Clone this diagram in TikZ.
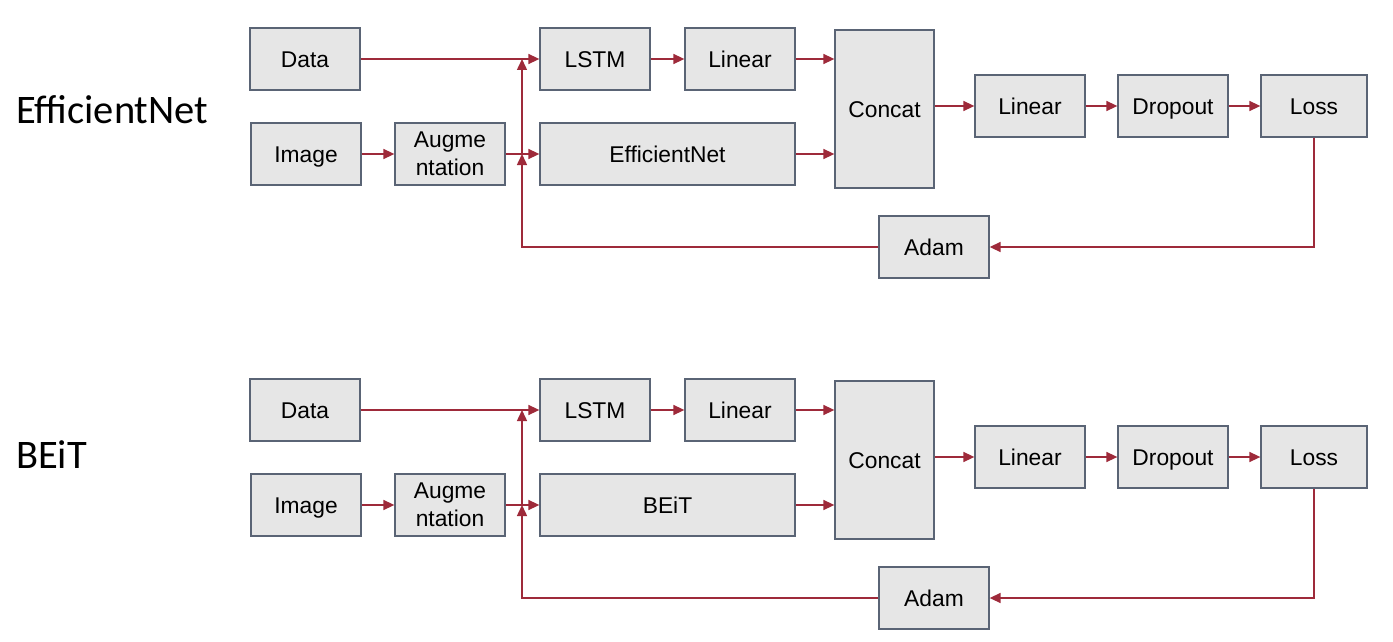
\documentclass[tikz,border=0pt]{standalone}
\usepackage{fontspec}
\setmainfont{Liberation Sans}
\newfontfamily\titlefont{Carlito}
\usetikzlibrary{arrows.meta}
\definecolor{boxfill}{HTML}{E6E6E6}
\definecolor{boxline}{HTML}{5A6475}
\definecolor{arrowred}{HTML}{9E2A3A}
\tikzset{
  blkbase/.style={draw=boxline, fill=boxfill, line width=1.3pt, minimum width=110pt,
    minimum height=62pt, inner sep=0pt, align=center,
    font=\fontsize{22.8}{28}\selectfont},
  blk/.style={blkbase, text height=16.3pt, text depth=0pt},
  flow/.style={draw=arrowred, line width=1.5pt, -{Triangle[length=11pt,width=10pt]}},
  ttl/.style={anchor=base west, inner sep=0pt, font=\titlefont\fontsize{40.5}{44}\selectfont}
}
\newcommand{\pipeline}[4]{% #1 prefix, #2 y offset, #3 title, #4 backbone
  \begin{scope}[shift={(0,#2)}]
    \node[blk] (#1data) at (305,59) {Data};
    \node[blk] (#1image) at (306,154) {Image};
    \node[blkbase] (#1aug) at (450,154) {Augme\\ntation};
    \node[blk] (#1lstm) at (595,59) {LSTM};
    \node[blk] (#1linA) at (740,59) {Linear};
    \node[blk, minimum width=255pt] (#1net) at (667.5,154) {#4};
    \node[blk, minimum width=99pt, minimum height=158pt] (#1concat) at (884.5,109) {Concat};
    \node[blk] (#1linB) at (1030,106) {Linear};
    \node[blk] (#1drop) at (1173,106) {Dropout};
    \node[blk, minimum width=106pt] (#1loss) at (1314,106) {Loss};
    \node[blk] (#1adam) at (934,247) {Adam};
    \coordinate (#1fbA) at (522,154);
    \coordinate (#1fbB) at (522,59);
    \draw[flow] (#1data.east) -- (#1lstm.west);
    \draw[flow] (#1image.east) -- (#1aug.west |- #1image.east);
    \draw[flow] (#1aug.east |- #1net.west) -- (#1net.west);
    \draw[flow] (#1lstm.east) -- (#1linA.west);
    \draw[flow] (#1linA.east) -- (#1concat.west |- #1linA.east);
    \draw[flow] (#1net.east) -- (#1concat.west |- #1net.east);
    \draw[flow] (#1concat.east |- #1linB.west) -- (#1linB.west);
    \draw[flow] (#1linB.east) -- (#1drop.west);
    \draw[flow] (#1drop.east) -- (#1loss.west);
    \draw[flow] (#1loss.south) |- (#1adam.east);
    \draw[flow] (#1adam.west) -| (#1fbA);
    \draw[flow] (#1fbA) -- (#1fbB);
  \end{scope}
}
\begin{document}
\begin{tikzpicture}[x=1pt, y=-1pt]
  \useasboundingbox (0,0) rectangle (1393,642);
  \node[ttl] (titleA) at (16,123.3) {EfficientNet};
  \node[ttl] (titleB) at (16,468) {BEiT};
  \pipeline{a}{0}{EfficientNet}{EfficientNet}
  \pipeline{b}{351}{BEiT}{BEiT}
\end{tikzpicture}
\end{document}
